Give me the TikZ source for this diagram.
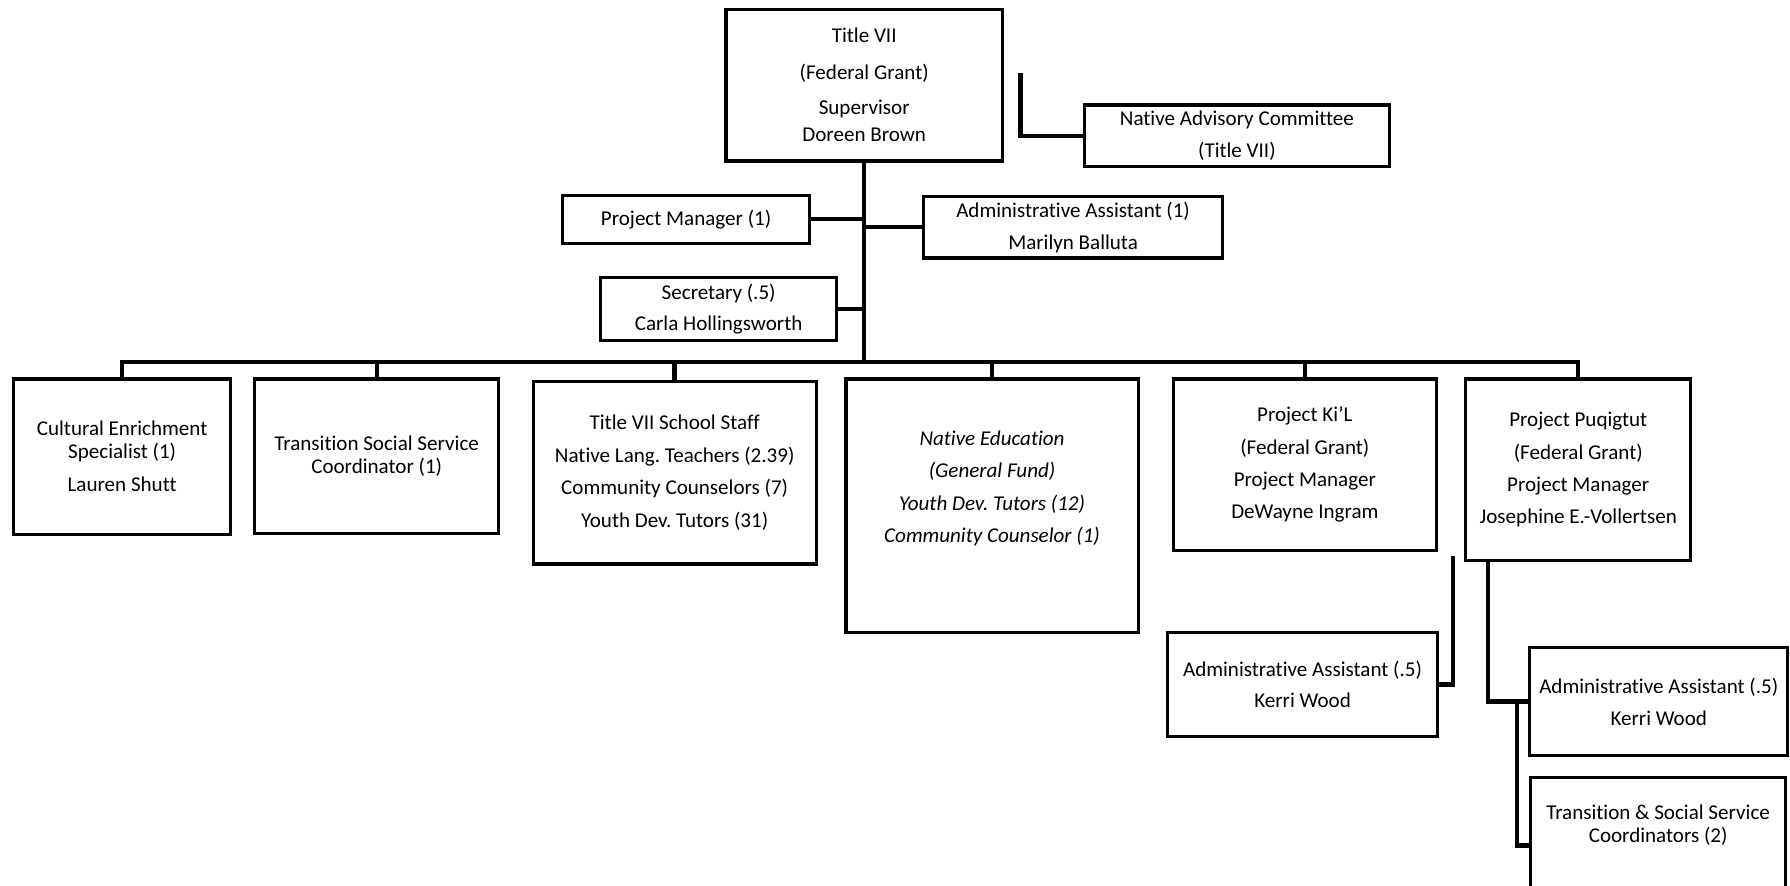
\documentclass[tikz,border=0pt]{standalone}
\usepackage{fontspec}
\setmainfont{Carlito}[Ligatures=CommonOff]
\frenchspacing
\tikzset{
  box/.style={draw, line width=1.6pt, align=center, inner sep=0pt,
    font=\fontsize{10.5}{11.4}\selectfont},
  link/.style={line width=2.2pt}
}
\begin{document}
\begin{tikzpicture}
      \useasboundingbox(0, 0) rectangle (31.36, -15.52);
      \clip(0, 0) rectangle (31.36, -15.52);

      \node[box, minimum width=4.84cm, minimum height=2.66cm] at(15.14, -1.49)(top){Title VII\\[6.8pt] (Federal Grant)\\[6.4pt] Supervisor\\[2pt] Doreen Brown};
      \node[box, minimum width=5.34cm, minimum height=1.08cm] at(21.67, -2.38)(adv){Native Advisory Committee\\[4.6pt] (Title VII)};
      \node[box, minimum width=4.32cm, minimum height=.84cm] at(12.02, -3.84)(pm){Project Manager (1)};
      \node[box, minimum width=5.24cm, minimum height=1.08cm] at(18.80, -3.98)(aa){Administrative Assistant (1)\\[4.6pt] Marilyn Balluta};
      \node[box, minimum width=4.14cm, minimum height=1.10cm] at(12.59, -5.41)(sec){Secretary (.5)\\[4pt] Carla Hollingsworth};

      \node[box, minimum width=3.80cm, minimum height=2.72cm] at(2.14, -8.00)(ces){Cultural Enrichment\\ Specialist (1)\\[5pt] Lauren Shutt};
      \node[box, minimum width=4.28cm, minimum height=2.70cm] at(6.60, -7.99)(tss){Transition Social Service\\ Coordinator (1)};
      \node[box, minimum width=4.96cm, minimum height=3.20cm] at(11.82, -8.28)(staff){Title VII School Staff\\[5pt] Native Lang. Teachers (2.39)\\[5pt] Community Counselors (7)\\[5pt] Youth Dev. Tutors (31)};
      \node[box, minimum width=5.12cm, minimum height=4.44cm] at(17.38, -8.86)(nated){\itshape Native Education\\[4.6pt] \itshape (General Fund)\\[4.6pt] \itshape Youth Dev. Tutors (12)\\[4.6pt] \itshape Community Counselor (1)\rule[-19pt]{0pt}{19pt}};
      \node[box, minimum width=4.60cm, minimum height=3.00cm] at(22.86, -8.14)(kil){Project Ki'L\\[4.7pt] (Federal Grant)\\[4.7pt] Project Manager\\[4.7pt] DeWayne Ingram};
      \node[box, minimum width=3.94cm, minimum height=3.18cm] at(27.65, -8.23)(puq){Project Puqigtut\\[4.7pt] (Federal Grant)\\[4.7pt] Project Manager\\[4.7pt] Josephine E.-Vollertsen};

      \node[box, minimum width=4.72cm, minimum height=1.82cm] at(22.82, -11.99)(kaa){Administrative Assistant (.5)\\[4pt] Kerri Wood};
      \node[box, minimum width=4.52cm, minimum height=1.90cm] at(29.06, -12.29)(paa){Administrative Assistant (.5)\\[4.6pt] Kerri Wood};
      \node[box, minimum width=4.46cm, minimum height=2.38cm] at(29.05, -14.81)(tsc){Transition \& Social Service\\ Coordinators (2)\rule[-22pt]{0pt}{22pt}};

      \coordinate(bus) at(15.14, -6.34);
      \coordinate(advtop) at(17.88, -1.28);
      \coordinate(kiltail) at(25.46, -9.74);

      % trunk and side boxes
      \draw[link](top.south) to (bus);
      \draw[link](pm.east) to (pm.east -| top.south);
      \draw[link](aa.west) to (aa.west -| top.south);
      \draw[link](sec.east) to (sec.east -| top.south);
      \draw[link](advtop) |- (adv.west);

      % bus
      \draw[link](ces.north) |- (bus) -| (puq.north);
      \foreach \b in {tss, staff, nated, kil}
        \draw[link](\b.north) to (\b.north |- bus);

      % project staff
      \draw[link](kiltail) |- (kaa.east);
      \draw[link]([xshift=.42cm]puq.south west) |- (paa.west);
      \draw[link]([xshift=-.22cm]tsc.west |- paa.west) |- (tsc.west);

\end{tikzpicture}
\end{document}
